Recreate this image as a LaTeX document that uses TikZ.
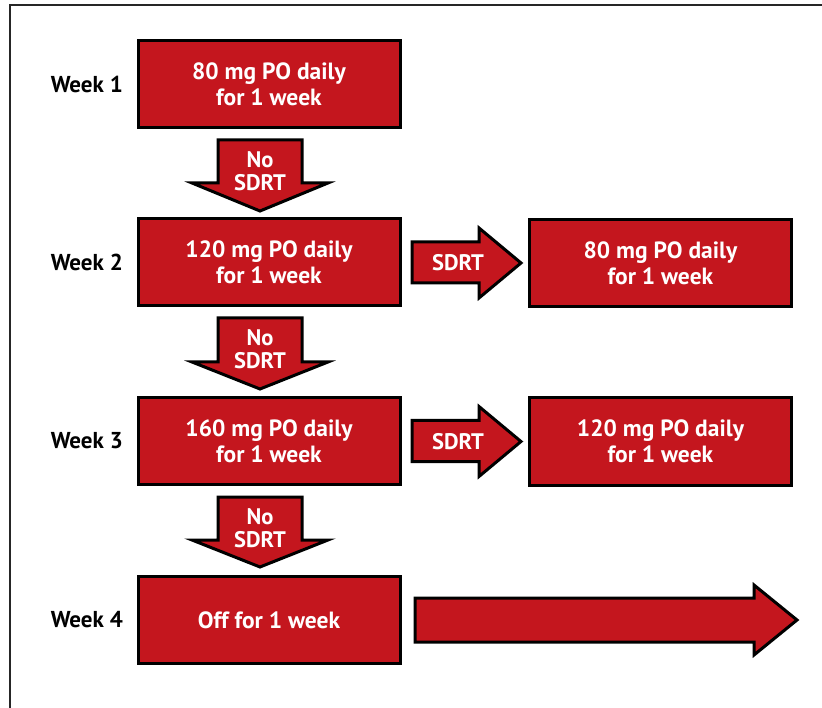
\documentclass[tikz,border=0pt]{standalone}
\usepackage{fontspec}
\setmainfont{PT Sans}
\definecolor{boxred}{RGB}{196,22,30}
\begin{document}
\begin{tikzpicture}[x=1pt,y=-1pt,
  redbox/.style={draw=black,fill=boxred,line width=3pt,minimum width=262pt,minimum height=87pt,inner sep=0pt,
    text=white,font=\fontsize{23.5}{26}\selectfont\bfseries,align=center},
  blockarrow/.style={draw=black,fill=boxred,line width=3pt,line join=miter},
  arrowtext/.style={text=white,font=\fontsize{22.5}{23}\selectfont\bfseries,align=center,inner sep=0pt},
  weeklabel/.style={font=\fontsize{23}{24}\selectfont\bfseries,anchor=east,inner sep=0pt}]
\useasboundingbox (0,0) rectangle (822,708);
\draw[line width=1.5pt,black!85] (10,708) -- (10,5) -- (822,5);

% main column
\node[redbox] (b1) at (269,84.5) {80 mg PO daily\\for 1 week};
\node[redbox] (b2) at (269,262.5) {120 mg PO daily\\for 1 week};
\node[redbox] (b3) at (269,441) {160 mg PO daily\\for 1 week};
\node[redbox] (b4) at (269,620) {Off for 1 week};

% right column
\node[redbox] (r2) at (660.5,263) {80 mg PO daily\\for 1 week};
\node[redbox] (r3) at (660.5,441.5) {120 mg PO daily\\for 1 week};

% week labels
\node[weeklabel] (w1) at (123,84.5) {Week 1};
\node[weeklabel] (w2) at (123,262.5) {Week 2};
\node[weeklabel] (w3) at (123,441) {Week 3};
\node[weeklabel] (w4) at (123,620) {Week 4};

% down arrows
\draw[blockarrow] (218,140) -- (302,140) -- (302,183) -- (328,183) -- (260,211) -- (192,183) -- (218,183) -- cycle;
\node[arrowtext] (d1) at (260,171) {No\\SDRT};
\draw[blockarrow] (218,318) -- (302,318) -- (302,362) -- (328,362) -- (260,389) -- (192,362) -- (218,362) -- cycle;
\node[arrowtext] (d2) at (260,349) {No\\SDRT};
\draw[blockarrow] (218,497) -- (302,497) -- (302,540) -- (328,540) -- (260,567) -- (192,540) -- (218,540) -- cycle;
\node[arrowtext] (d3) at (260,528) {No\\SDRT};

% side arrows
\draw[blockarrow] (412,242) -- (479,242) -- (479,228) -- (521,263) -- (479,298) -- (479,283) -- (412,283) -- cycle;
\node[arrowtext] (s2) at (458,263) {SDRT};
\draw[blockarrow] (412,420.5) -- (479,420.5) -- (479,406.5) -- (521,441.5) -- (479,476.5) -- (479,461.5) -- (412,461.5) -- cycle;
\node[arrowtext] (s3) at (458,441.5) {SDRT};

% long arrow
\draw[blockarrow] (415,598) -- (754,598) -- (754,585) -- (797,620) -- (754,655) -- (754,642) -- (415,642) -- cycle;
\end{tikzpicture}
\end{document}
